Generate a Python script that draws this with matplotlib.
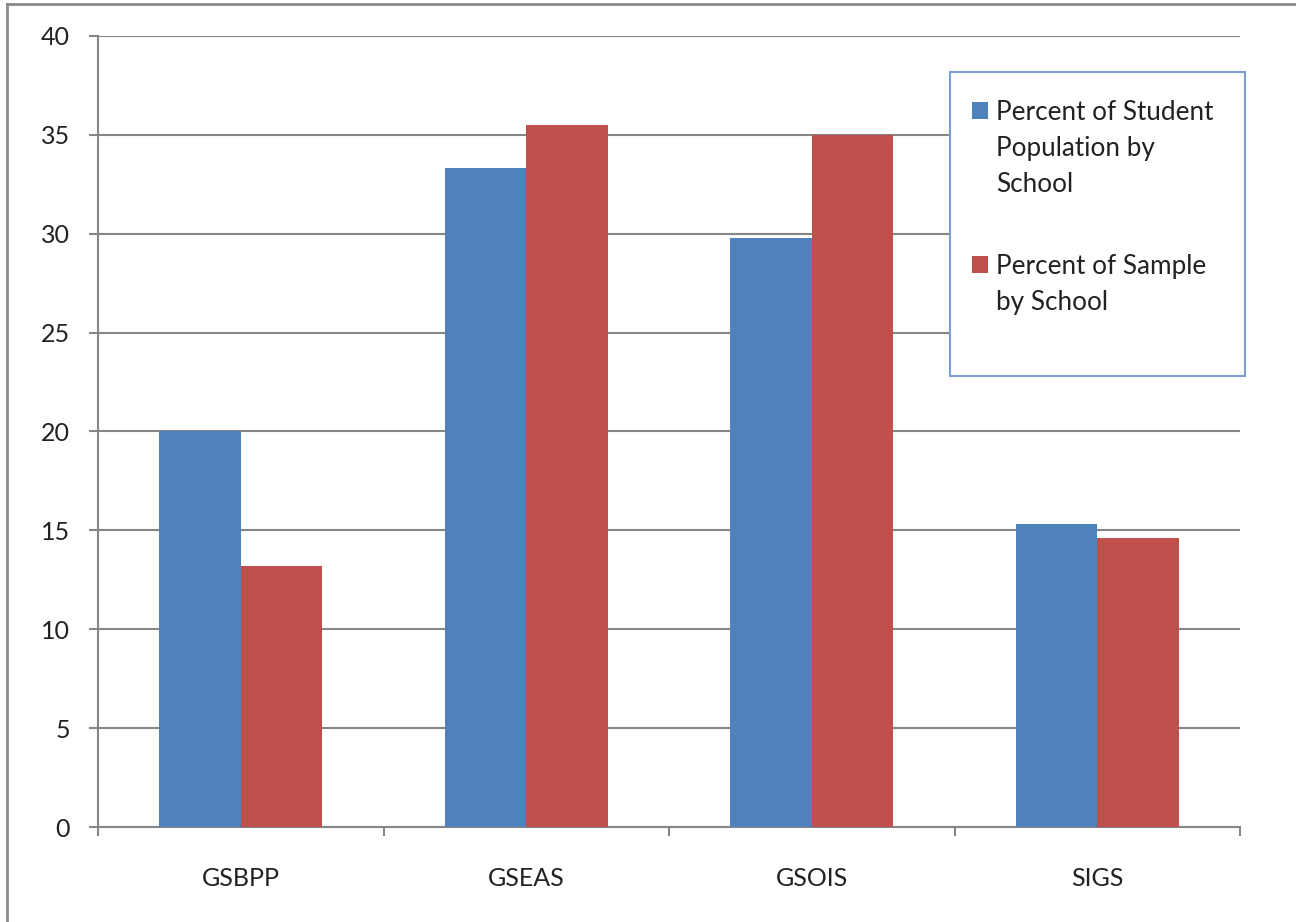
import numpy as np
import matplotlib.pyplot as plt
from matplotlib.patches import Rectangle
from matplotlib.lines import Line2D

schools = ["GSBPP", "GSEAS", "GSOIS", "SIGS"]
population = [20.0, 33.3, 29.8, 15.3]
sample = [13.2, 35.5, 35.0, 14.6]
yticks = [0, 5, 10, 15, 20, 25, 30, 35, 40]
labels = ["Percent of Student\nPopulation by\nSchool", "Percent of Sample\nby School"]

blue = "#4F81BD"
red = "#C0504D"
grey = "#868686"

plt.rcParams['font.family'] = ['Lato', 'DejaVu Sans']

W, H = 1296, 922
def fx(px):
    return px / W
def fy(py):
    return 1 - py / H

fig = plt.figure(figsize=(12.96, 9.22), dpi=100)
ax = fig.add_axes([fx(98), fy(827), fx(1240) - fx(98), fy(36) - fy(827)])

x = np.arange(len(schools))
w = 1/3.5
ax.bar(x - w/2, population, w, color=blue, zorder=3)
ax.bar(x + w/2, sample, w, color=red, zorder=3)

ax.set_xlim(-0.5, len(schools) - 0.5)
ax.set_ylim(0, 40)
ax.set_yticks(yticks)
ax.set_xticks(x)
ax.set_xticklabels(schools)
ax.set_xticks(np.arange(len(schools) + 1) - 0.5, minor=True)
ax.tick_params(axis='x', which='major', length=0, pad=29, labelsize=18, labelcolor="#222222")
ax.tick_params(axis='x', which='minor', length=6.5, width=1.5, color=grey)
ax.tick_params(axis='y', length=6.5, width=1.5, color=grey, pad=13.5, labelsize=18, labelcolor="#222222")
ax.yaxis.grid(True, color=grey, lw=1.5, zorder=0)
for s in ['top', 'right']:
    ax.spines[s].set_visible(False)
for s in ['left', 'bottom']:
    ax.spines[s].set_color(grey)
    ax.spines[s].set_linewidth(1.5)

# outer chart frame (left and top edges visible)
fig.add_artist(Line2D([fx(7), fx(7)], [0, fy(4)], transform=fig.transFigure, color="#8a8a8a", lw=2))
fig.add_artist(Line2D([fx(7), 1], [fy(4), fy(4)], transform=fig.transFigure, color="#8a8a8a", lw=2))

# legend box drawn by hand so the swatches sit on the first text line
fig.add_artist(Rectangle((fx(950), fy(376)), fx(1245) - fx(950), fy(72) - fy(376),
                         transform=fig.transFigure, facecolor="white", edgecolor="#7C9FD0",
                         lw=1.5, zorder=5))
for i, (lab, col) in enumerate(zip(labels, [blue, red])):
    top = [102, 256][i]
    fig.add_artist(Rectangle((fx(972), fy(top + 17)), fx(988) - fx(972), fy(top) - fy(top + 17),
                             transform=fig.transFigure, facecolor=col, edgecolor='none', zorder=6))
    fig.text(fx(996), fy(top - 2), lab, ha='left', va='top', fontsize=18.8, color="#222222",
             linespacing=1.56, zorder=6)

fig.savefig("out.png", dpi=100)
